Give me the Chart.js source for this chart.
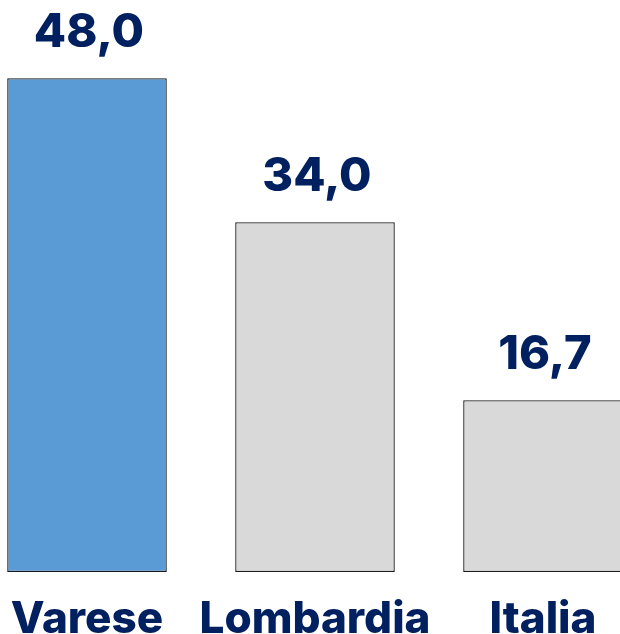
<!DOCTYPE html>
<html>
<head>
<meta charset="utf-8">
<script src="https://cdn.jsdelivr.net/npm/chart.js@4"></script>
<style>
  html, body { margin: 0; padding: 0; background: #fff; overflow: hidden; }
  #wrap { position: absolute; left: -27px; top: 0; width: 684px; height: 634px; }
</style>
</head>
<body>
<div id="wrap"><canvas id="barChart"></canvas></div>
<script>
const categories = ['Varese', 'Lombardia', 'Italia'];
const values = [48.0, 34.0, 16.7];
const barColors = ['#5b9bd5', '#d9d9d9', '#d9d9d9'];

const navy = '#002060';
const fontFamily = 'Inter, "Open Sans", sans-serif';

const valueLabels = {
    id: 'valueLabels',
    afterDatasetsDraw(chart) {
        const ctx = chart.ctx;
        const meta = chart.getDatasetMeta(0);
        ctx.save();
        ctx.fillStyle = navy;
        ctx.font = '800 47px ' + fontFamily;
        ctx.textAlign = 'center';
        ctx.textBaseline = 'alphabetic';
        meta.data.forEach(function(bar, i) {
            const txt = values[i].toFixed(1).replace('.', ',');
            ctx.fillText(txt, bar.x + 2, bar.y - 31);
        });
        ctx.restore();
    }
};

document.addEventListener('DOMContentLoaded', function() {
    const ctx = document.getElementById('barChart');
    new Chart(ctx, {
        type: 'bar',
        data: {
            labels: categories,
            datasets: [{
                data: values,
                backgroundColor: barColors,
                borderColor: '#1a1a1a',
                borderWidth: 1.3,
                borderSkipped: false,
                barPercentage: 0.7,
                categoryPercentage: 1
            }]
        },
        options: {
            responsive: true,
            maintainAspectRatio: false,
            animation: false,
            layout: { padding: 0 },
            plugins: {
                legend: { display: false },
                tooltip: { enabled: false }
            },
            scales: {
                y: {
                    display: false,
                    min: 0,
                    max: 55.6
                },
                x: {
                    grid: { display: false },
                    border: { display: false },
                    ticks: {
                        color: navy,
                        font: { size: 44, weight: '800', family: fontFamily },
                        padding: 13,
                        maxRotation: 0,
                        autoSkip: false
                    },
                    afterFit(scale) { scale.height = 62; }
                }
            }
        },
        plugins: [valueLabels]
    });
});
</script>
</body>
</html>
